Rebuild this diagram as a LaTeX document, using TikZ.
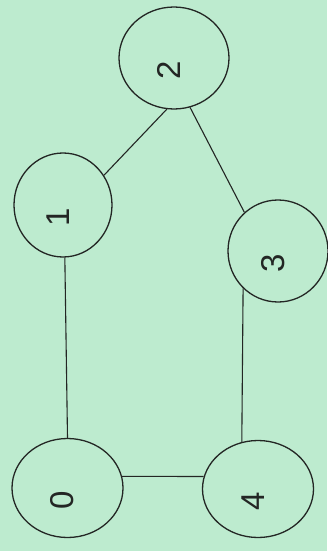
\documentclass[tikz,border=0pt]{standalone}
\usepackage{fontspec}
\setmainfont{Liberation Sans}
\usepackage{tikz}
\usetikzlibrary{shapes.geometric,positioning}
\definecolor{paper}{RGB}{189,235,207}
\definecolor{ink}{RGB}{35,38,36}

\begin{document}
\begin{tikzpicture}[x=1pt, y=-1pt,
    vertex/.style={draw=ink, ellipse, line width=1.3pt, inner sep=0pt},
    digit/.style={shift={(-5,12)}, rotate=90, text=ink, font=\fontsize{33}{33}\selectfont},
    edge/.style={draw=ink, line width=1.1pt}]
        \fill[paper] (0,0) rectangle (327,551);
        \useasboundingbox (0,0) rectangle (327,551);
        \path
        (67.5,488) coordinate (c0)
        (63,205) coordinate (c1)
        (174,58) coordinate (c2)
        (278,251) coordinate (c3)
        (258,489) coordinate (c4)
        ;
        \draw
        (c0) node[vertex, minimum width=111, minimum height=99, label={[digit]center:0}] (n0) {}
        (c1) node[vertex, minimum width=98, minimum height=104, label={[digit]center:1}] (n1) {}
        (c2) node[vertex, minimum width=110, minimum height=102, label={[digit]center:2}] (n2) {}
        (c3) node[vertex, minimum width=100, minimum height=102, label={[digit]center:3}] (n3) {}
        (c4) node[vertex, minimum width=111, minimum height=97, label={[digit]center:4}] (n4) {}
        ;

        \draw[edge] (n1.36) -- (n2.262);
        \draw[edge] (n2.288) -- (n3.131);
        \draw[edge] (n1.272) -- (n0.90);
        \draw[edge] (n3.227) -- (n4.109);
        \draw[edge] (n0.12) -- (n4.167);
\end{tikzpicture}
\end{document}
